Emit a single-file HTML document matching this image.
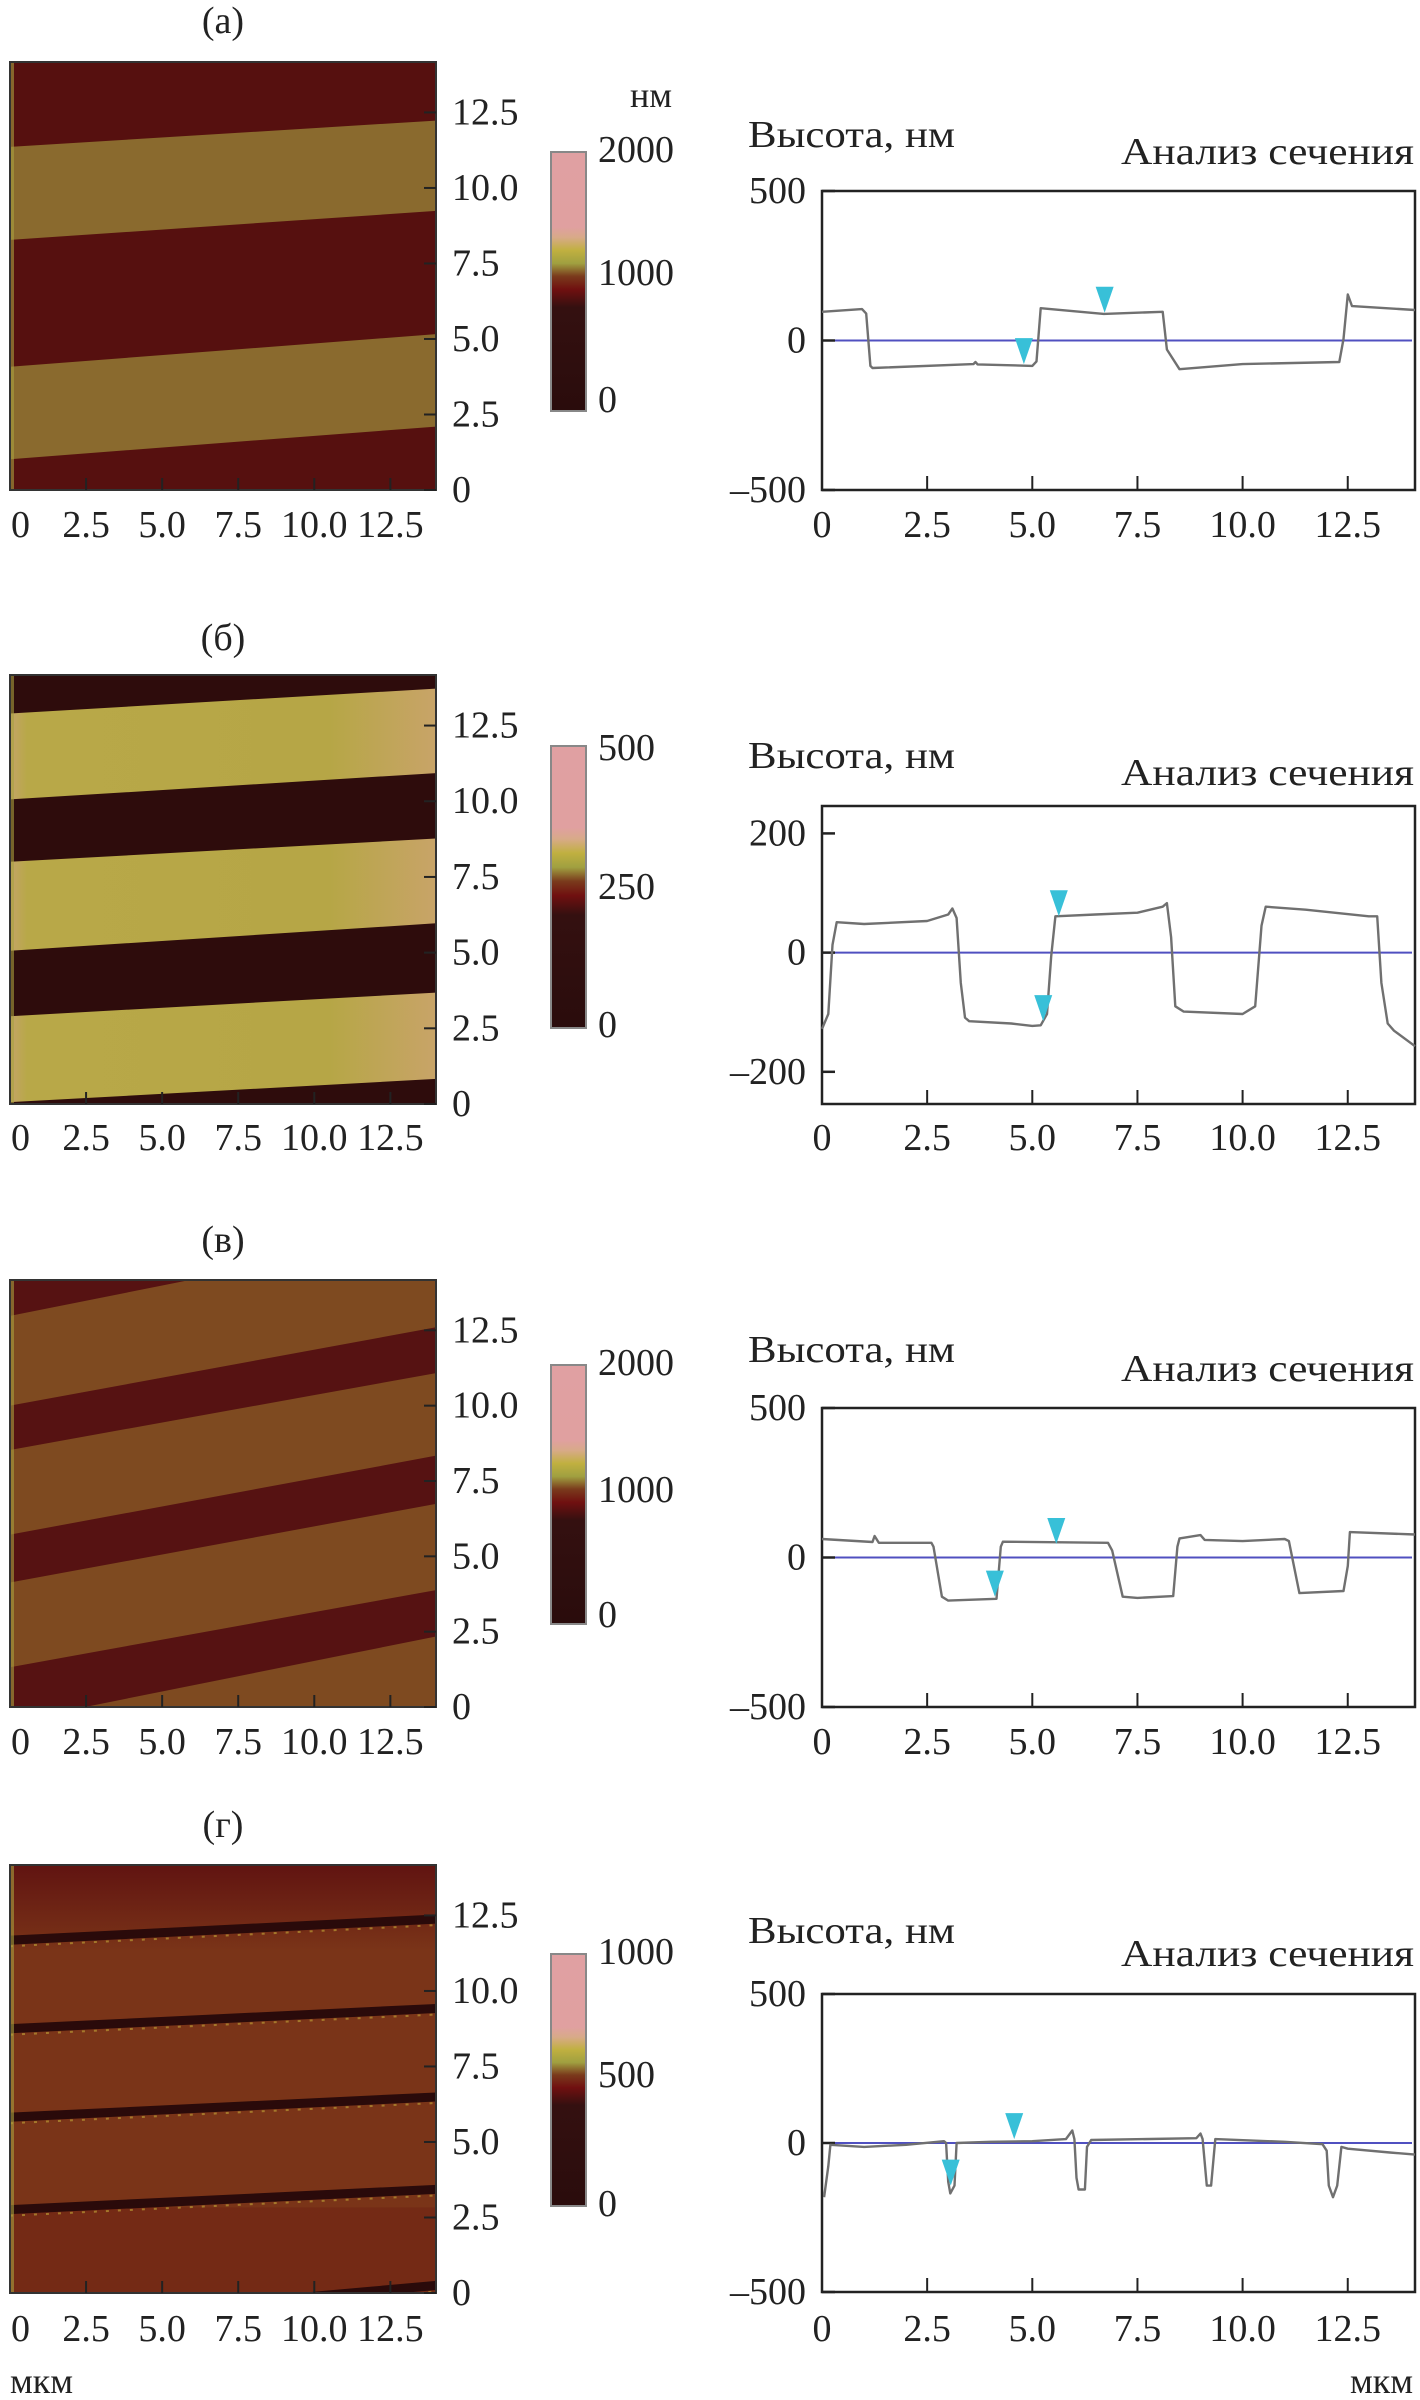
<!DOCTYPE html>
<html><head><meta charset="utf-8">
<style>
html,body{margin:0;padding:0;background:#fff;}
svg{display:block;}
text{font-family:"Liberation Serif","Times New Roman",serif;fill:#222;}
</style></head>
<body>
<svg id="fig" width="1420" height="2400" viewBox="0 0 1420 2400" xmlns="http://www.w3.org/2000/svg">
<defs>
<linearGradient id="cbar" x1="0" y1="0" x2="0" y2="1">
<stop offset="0" stop-color="#e0a0a2"/>
<stop offset="0.29" stop-color="#e0a0a0"/>
<stop offset="0.33" stop-color="#d8aa88"/>
<stop offset="0.38" stop-color="#c0b040"/>
<stop offset="0.43" stop-color="#a0a040"/>
<stop offset="0.48" stop-color="#7a3a1c"/>
<stop offset="0.53" stop-color="#701010"/>
<stop offset="0.60" stop-color="#341010"/>
<stop offset="1" stop-color="#2a0c0c"/>
</linearGradient>
<linearGradient id="lightB" x1="0" y1="0" x2="1" y2="0">
<stop offset="0" stop-color="#c4a468"/>
<stop offset="0.04" stop-color="#b8a848"/>
<stop offset="0.75" stop-color="#b6a646"/>
<stop offset="1" stop-color="#c8a468"/>
</linearGradient>
<linearGradient id="topD" x1="0" y1="0" x2="0" y2="1">
<stop offset="0" stop-color="#5e1010" stop-opacity="0.9"/>
<stop offset="1" stop-color="#5e1010" stop-opacity="0"/>
</linearGradient>
</defs>
</svg>
<script>
// ---------- Profile data (x in мкм, height in нм) ----------
const profA_x = [0,0.95,1.05,1.15,1.2,3.6,3.65,3.7,5.0,5.1,5.2,6.7,8.1,8.2,8.5,10.0,12.3,12.4,12.5,12.6,14.1];
const profA_y = [96,105,90,-85,-92,-79,-72,-80,-85,-70,108,89,96,-30,-96,-79,-72,5,154,115,102];
const profB_x = [0,0.15,0.25,0.35,1.0,2.5,3.0,3.1,3.2,3.3,3.4,3.5,4.5,5.0,5.2,5.35,5.45,5.55,6.5,7.5,8.1,8.2,8.3,8.4,8.6,10.0,10.3,10.45,10.55,11.5,13.0,13.2,13.3,13.45,13.6,14.1];
const profB_y = [-128,-103,13,51,48,53,64,74,58,-51,-109,-115,-119,-123,-122,-103,-6,61,64,67,77,83,26,-90,-99,-103,-90,45,77,72,61,61,-51,-119,-131,-157];
const profC_x = [0,1.2,1.25,1.35,2.6,2.65,2.85,3.0,4.15,4.25,4.3,6.8,6.9,7.15,7.5,8.35,8.45,8.5,9.0,9.1,10.0,11.0,11.1,11.35,12.4,12.5,12.55,14.1];
const profC_y = [62,52,72,49,49,36,-131,-144,-138,36,53,49,23,-131,-135,-129,36,64,75,59,55,62,55,-119,-112,-28,85,77];
const profD_x = [0.05,0.15,0.2,1.0,2.0,2.9,2.95,3.0,3.05,3.15,3.2,4.0,5.0,5.8,5.95,6.0,6.05,6.1,6.25,6.3,6.4,8.9,9.0,9.05,9.15,9.25,9.35,11.0,11.9,12.0,12.05,12.15,12.25,12.35,12.5,13.5,14.1];
const profD_y = [-182,-78,-6,-13,-6,6,0,-130,-169,-143,0,4,6,13,42,13,-117,-156,-156,-13,10,16,32,13,-143,-143,13,4,-4,-26,-143,-182,-143,-13,-19,-32,-39];
// marker positions [x, height]
const markA_x = [4.8,6.72];  const markA_y = [-79,93];
const markB_x = [5.26,5.63]; const markB_y = [-115,61];
const markC_x = [4.11,5.57]; const markC_y = [-131,45];
const markD_x = [3.06,4.57]; const markD_y = [-143,13];
// y-axis ticks of profiles
const ticksA = [500,0,-500]; const ticksB = [200,0,-200]; const ticksC = [500,0,-500]; const ticksD = [500,0,-500];
const xTickVals = [0,2.5,5.0,7.5,10.0,12.5];
const xTickLabels = ["0","2.5","5.0","7.5","10.0","12.5"];
const mapYTickLabels = ["0","2.5","5.0","7.5","10.0","12.5"];
// colorbar labels
const cbarA = ["2000","1000","0"]; const cbarB = ["500","250","0"]; const cbarC = ["2000","1000","0"]; const cbarD = ["1000","500","0"];
// map band edges: [y at x=0, y at x=14] for top and bottom edges
const bandsA_top = [[11.36,12.23],[4.08,5.16]]; const bandsA_bot = [[8.28,9.24],[1.02,2.10]];
const bandsB_top = [[12.9,13.72],[8.0,8.77],[2.9,3.68]]; const bandsB_bot = [[10.06,10.93],[5.06,5.97],[0.06,0.83]];
const bandsC_top = [[16.0,18.8],[10.0,12.6],[5.72,8.34],[1.32,3.88]]; const bandsC_bot = [[12.98,15.8],[8.53,11.08],[4.13,6.74],[-0.5,2.34]];
const linesD = [[11.68,12.38],[8.75,9.42],[5.82,6.49],[2.76,3.43],[-1.0,0.25]];

const NS = "http://www.w3.org/2000/svg";
const svg = document.getElementById('fig');
function el(tag, attrs, parent){
  const e = document.createElementNS(NS, tag);
  for (const k in attrs) e.setAttribute(k, attrs[k]);
  (parent||svg).appendChild(e); return e;
}
function txt(s, x, y, size, anchor, parent, len){
  const a = {x:x, y:y, 'font-size':size, 'text-anchor':anchor||'start', 'dominant-baseline':'central', 'font-family':'Liberation Serif, serif'};
  if (len) { a.textLength = len; a.lengthAdjust = 'spacingAndGlyphs'; }
  const t = el('text', a, parent);
  t.textContent = s; return t;
}

const panels = [
 {id:'a', label:'(а)', labelY:21, mapTop:62, mapBot:490, cbTop:152, cbBot:411, cbLab:cbarA, cbLabY:[150,273,400],
  xlabY:525, dom:[-500,500], pTop:191, pBot:490, ticks:ticksA, px:profA_x, py:profA_y, mx:markA_x, my:markA_y,
  titleY:135, anaY:152, dark:'#56100f', light:'#8a6a2e', top:bandsA_top, bot:bandsA_bot},
 {id:'b', label:'(б)', labelY:638, mapTop:675, mapBot:1104, cbTop:746, cbBot:1028, cbLab:cbarB, cbLabY:[748,887,1025],
  xlabY:1138, dom:[-254,246], pTop:806, pBot:1104, ticks:ticksB, px:profB_x, py:profB_y, mx:markB_x, my:markB_y,
  titleY:756, anaY:773, dark:'#2e0c0c', light:'url(#lightB)', top:bandsB_top, bot:bandsB_bot},
 {id:'c', label:'(в)', labelY:1240, mapTop:1280, mapBot:1707, cbTop:1365, cbBot:1624, cbLab:cbarC, cbLabY:[1363,1490,1615],
  xlabY:1742, dom:[-500,500], pTop:1408, pBot:1707, ticks:ticksC, px:profC_x, py:profC_y, mx:markC_x, my:markC_y,
  titleY:1350, anaY:1369, dark:'#561212', light:'#7e4a20', top:bandsC_top, bot:bandsC_bot, invert:true},
 {id:'d', label:'(г)', labelY:1825, mapTop:1865, mapBot:2293, cbTop:1954, cbBot:2206, cbLab:cbarD, cbLabY:[1952,2075,2204],
  xlabY:2329, dom:[-500,500], pTop:1994, pBot:2292, ticks:ticksD, px:profD_x, py:profD_y, mx:markD_x, my:markD_y,
  titleY:1931, anaY:1954, dark:'#2a0a0a', light:'#7a3418', lines:linesD}
];

const MX0 = 10, MX1 = 436, MXMAX = 14;
const PX0 = 822, PUNIT = 42.06, PX1 = 1415;

panels.forEach(p => {
  const g = el('g', {});
  
  
  const lab = txt(p.label, 223, p.labelY, 38, 'middle', g);
  
  

  // ---- map ----
  const mh = p.mapBot - p.mapTop;
  const ymax = 14.17;
  const mxs = v => MX0 + v/MXMAX*(MX1-MX0);
  const mys = v => p.mapBot - v/ymax*mh;
  const mg = el('g', {}, g);
  
  
  el('clipPath', {id:'clip'+p.id}, mg).appendChild(
    (()=>{const r=document.createElementNS(NS,'rect');r.setAttribute('x',MX0);r.setAttribute('y',p.mapTop);r.setAttribute('width',MX1-MX0);r.setAttribute('height',mh);return r;})());
  const inner = el('g', {'clip-path':'url(#clip'+p.id+')'}, mg);
  if (p.id === 'd') {
    el('rect', {x:MX0, y:p.mapTop, width:MX1-MX0, height:mh, fill:p.light}, inner);
    el('rect', {x:MX0, y:p.mapTop, width:MX1-MX0, height:mh*0.2, fill:'url(#topD)'}, inner);
    el('rect', {x:MX0, y:p.mapBot-mh*0.2, width:MX1-MX0, height:mh*0.2, fill:'#6a1a10', opacity:0.35}, inner);
    p.lines.forEach((l,i) => {
      const ln = el('polygon', {points:
        mxs(0)+','+mys(l[0]+0.15)+' '+mxs(14)+','+mys(l[1]+0.15)+' '+mxs(14)+','+mys(l[1]-0.15)+' '+mxs(0)+','+mys(l[0]-0.15), fill:p.dark}, inner);
      
      
      el('line', {x1:mxs(0), y1:mys(l[0]-0.2), x2:mxs(14), y2:mys(l[1]-0.2), stroke:'#b08a30', 'stroke-width':2, 'stroke-dasharray':'3 9', opacity:0.8}, inner);
    });
  } else {
    const base = p.invert ? p.light : p.dark;
    const band = p.invert ? p.dark : p.light;
    el('rect', {x:MX0, y:p.mapTop, width:MX1-MX0, height:mh, fill:base}, inner);
    p.top.forEach((t,i) => {
      const b = p.bot[i];
      const poly = el('polygon', {points:
        mxs(0)+','+mys(t[0])+' '+mxs(14)+','+mys(t[1])+' '+mxs(14)+','+mys(b[1])+' '+mxs(0)+','+mys(b[0]), fill:band}, inner);
      
      
    });
  }
  el('rect', {x:MX0, y:p.mapTop, width:4, height:mh, fill:'#a8a040', opacity:0.6}, inner);
  el('rect', {x:MX0, y:p.mapTop, width:MX1-MX0, height:mh, fill:'none', stroke:'#333', 'stroke-width':2}, mg);
  // map ticks
  xTickVals.forEach((v,i) => {
    if (v>0) el('line', {x1:mxs(v), y1:p.mapBot, x2:mxs(v), y2:p.mapBot-12, stroke:'#222', 'stroke-width':2}, mg);
    el('line', {x1:MX1, y1:mys(v), x2:MX1-12, y2:mys(v), stroke:'#222', 'stroke-width':2}, mg);
    const xl = txt(xTickLabels[i], mxs(v) + (i===0?1:0), p.xlabY, 38, i===0?'start':'middle', g);
    
    
    const yl = txt(mapYTickLabels[i], 452, mys(v), 38, 'start', g);
    
    
  });
  // colorbar
  const cb = el('rect', {x:551, y:p.cbTop, width:35, height:p.cbBot-p.cbTop, fill:'url(#cbar)', stroke:'#888', 'stroke-width':2}, g);
  
  
  p.cbLab.forEach((s,i) => {
    const c = txt(s, 598, p.cbLabY[i], 38, 'start', g);
    
    
  });

  // ---- profile ----
  const pg = el('g', {}, g);
  
  
  const xs = v => PX0 + v*PUNIT;
  const ys = v => p.pBot - (v - p.dom[0])/(p.dom[1]-p.dom[0])*(p.pBot-p.pTop);
  const t1 = txt('Высота, нм', 748, p.titleY, 38, 'start', pg, 207);
  
  
  const t2 = txt('Анализ сечения', 1121, p.anaY, 38, 'start', pg, 293);
  
  
  el('rect', {x:PX0, y:p.pTop, width:PX1-PX0, height:p.pBot-p.pTop, fill:'none', stroke:'#222', 'stroke-width':2.5}, pg);
  // zero line
  const z = el('line', {x1:PX0, y1:ys(0), x2:PX1-3, y2:ys(0), stroke:'#5050c0', 'stroke-width':2}, pg);
  
  
  p.ticks.forEach(v => {
    el('line', {x1:PX0, y1:ys(v), x2:PX0+13, y2:ys(v), stroke:'#222', 'stroke-width':2.5}, pg);
    const yl = txt(String(v).replace('-', '\u2013'), 806, ys(v), 38, 'end', pg);
    
    
  });
  xTickVals.forEach((v,i) => {
    if (v>0) el('line', {x1:xs(v), y1:p.pBot, x2:xs(v), y2:p.pBot-14, stroke:'#222', 'stroke-width':2}, pg);
    const xl = txt(xTickLabels[i], xs(v), p.xlabY, 38, 'middle', pg);
    
    
  });
  const pts = p.px.map((x,i) => xs(x).toFixed(1)+','+ys(p.py[i]).toFixed(1)).join(' ');
  const line = el('polyline', {points:pts, fill:'none', stroke:'#707070', 'stroke-width':2.4, 'stroke-linejoin':'round'}, pg);
  
  
  p.mx.forEach((mx,i) => {
    const cx = xs(mx), cy = ys(p.my[i]);
    const tri = el('polygon', {points:(cx-9)+','+(cy-26)+' '+(cx+9)+','+(cy-26)+' '+cx+','+cy, fill:'#38c0d8'}, pg);
    
    
  });
});

const u1 = txt('нм', 651, 95, 36, 'middle');


const u2 = txt('мкм', 10, 2381, 36, 'start');


const u3 = txt('мкм', 1413, 2381, 36, 'end');


</script>
</body></html>
